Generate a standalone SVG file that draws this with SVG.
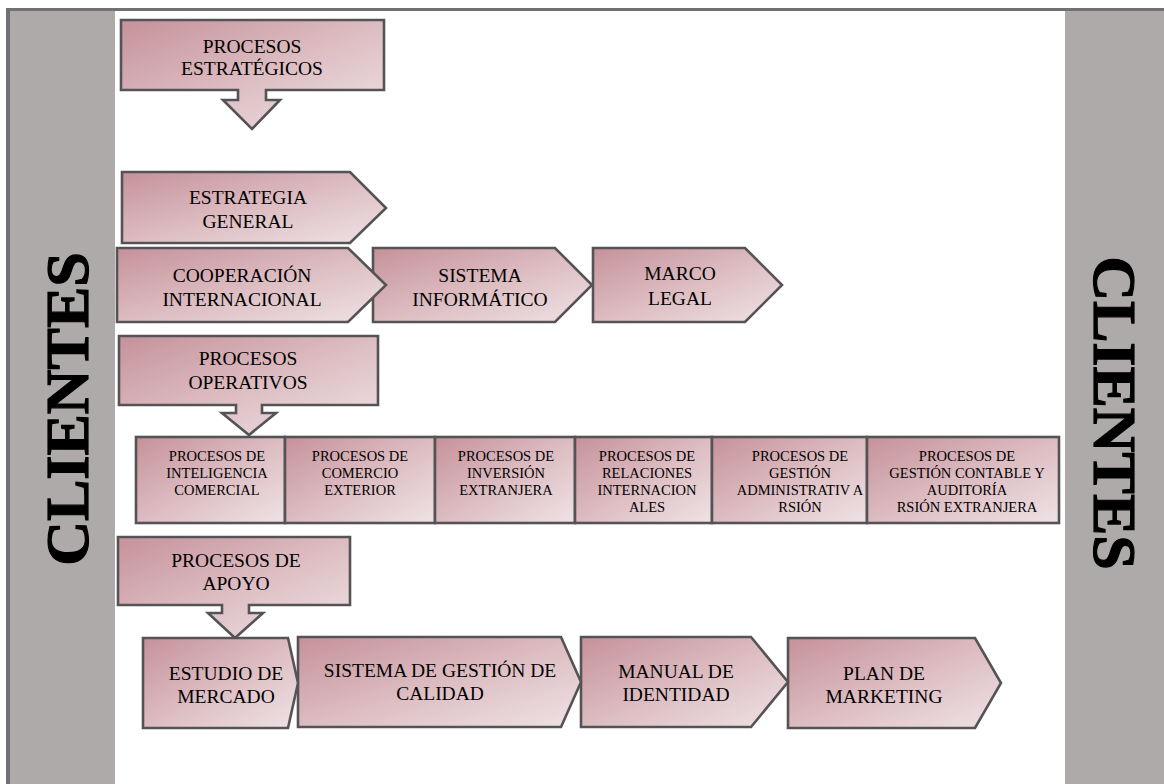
<svg xmlns="http://www.w3.org/2000/svg" width="1164" height="784" viewBox="0 0 1164 784">
  <defs>
    <linearGradient id="rose" x1="0" y1="0" x2="1" y2="1">
      <stop offset="0" stop-color="#c6919a"/>
      <stop offset="0.5" stop-color="#dcbcc1"/>
      <stop offset="1" stop-color="#efe3e5"/>
    </linearGradient>
  </defs>
  <style>
    .shape { fill: url(#rose); stroke: #555355; stroke-width: 2.6; stroke-linejoin: miter; }
    .t { font-family: "Liberation Serif", "Times New Roman", serif; font-size: 19.5px; text-anchor: middle; fill: #000000; }
    .s { font-size: 14.5px; }
    .side { fill: #aeaaa9; }
    .frame { fill: #737075; }
    .cl { font-family: "Liberation Serif", "Times New Roman", serif; font-size: 62px; font-weight: 700; text-anchor: middle; fill: #000000; stroke: #000000; stroke-width: 1.2; }
  </style>

  <!-- page background and frame -->
  <rect x="0" y="0" width="1164" height="784" fill="#ffffff"/>
  <rect class="frame" x="6" y="8" width="1158" height="3"/>
  <rect class="frame" x="6" y="8" width="4" height="776"/>

  <!-- customer bands -->
  <g id="clientes-left">
    <rect class="side" x="10" y="11" width="105" height="773"/>
    <text class="cl" font-family="Liberation Serif, serif" font-weight="bold" transform="translate(88,409) rotate(-90)">CLIENTES</text>
  </g>
  <g id="clientes-right">
    <rect class="side" x="1065" y="11" width="99" height="773"/>
    <text class="cl" font-family="Liberation Serif, serif" font-weight="bold" transform="translate(1094,413) rotate(90)">CLIENTES</text>
  </g>

  <!-- strategic processes -->
  <g id="procesos-estrategicos">
    <path class="shape" d="M121,20 H384 V90 H266 V100 H280 L252,129 L223,100 H238 V90 H121 Z"/>
    <text class="t" x="252" y="52.5">PROCESOS</text>
    <text class="t" x="252" y="75">ESTRATÉGICOS</text>
  </g>

  <g id="estrategia-general">
    <path class="shape" d="M122,172 H350 L386,208 L350,243 H122 Z"/>
    <text class="t" x="248" y="204">ESTRATEGIA</text>
    <text class="t" x="248" y="228">GENERAL</text>
  </g>

  <g id="marco-legal">
    <path class="shape" d="M593,248 H745 L782,285 L745,322 H593 Z"/>
    <text class="t" x="680" y="280">MARCO</text>
    <text class="t" x="680" y="305">LEGAL</text>
  </g>

  <g id="sistema-informatico">
    <path class="shape" d="M373,248 H555 L592,285 L555,322 H373 Z"/>
    <text class="t" x="480" y="282">SISTEMA</text>
    <text class="t" x="480" y="306">INFORMÁTICO</text>
  </g>

  <g id="cooperacion-internacional">
    <path class="shape" d="M117,248 H348 L386,285 L348,322 H117 Z"/>
    <text class="t" x="242" y="282">COOPERACIÓN</text>
    <text class="t" x="242" y="306">INTERNACIONAL</text>
  </g>

  <!-- operational processes -->
  <g id="procesos-operativos">
    <path class="shape" d="M119,336 H378 V405 H262 V413 H276 L249,435 L222,413 H236 V405 H119 Z"/>
    <text class="t" x="248" y="364.5">PROCESOS</text>
    <text class="t" x="248" y="388.5">OPERATIVOS</text>
  </g>

  <g id="inteligencia-comercial">
    <rect class="shape" x="136" y="437" width="149" height="86"/>
    <text class="t s" x="217" y="461">PROCESOS DE</text>
    <text class="t s" x="217" y="478">INTELIGENCIA</text>
    <text class="t s" x="217" y="495">COMERCIAL</text>
  </g>
  <g id="comercio-exterior">
    <rect class="shape" x="285" y="437" width="150" height="86"/>
    <text class="t s" x="360" y="461">PROCESOS DE</text>
    <text class="t s" x="360" y="478">COMERCIO</text>
    <text class="t s" x="360" y="495">EXTERIOR</text>
  </g>
  <g id="inversion-extranjera">
    <rect class="shape" x="435" y="437" width="140" height="86"/>
    <text class="t s" x="506" y="461">PROCESOS DE</text>
    <text class="t s" x="506" y="478">INVERSIÓN</text>
    <text class="t s" x="506" y="495">EXTRANJERA</text>
  </g>
  <g id="relaciones-internacionales">
    <rect class="shape" x="575" y="437" width="137" height="86"/>
    <text class="t s" x="647" y="461">PROCESOS DE</text>
    <text class="t s" x="647" y="478">RELACIONES</text>
    <text class="t s" x="647" y="495">INTERNACION</text>
    <text class="t s" x="647" y="512">ALES</text>
  </g>
  <g id="gestion-administrativa">
    <rect class="shape" x="712" y="437" width="155" height="86"/>
    <text class="t s" x="800" y="461">PROCESOS DE</text>
    <text class="t s" x="800" y="478">GESTIÓN</text>
    <text class="t s" x="800" y="495">ADMINISTRATIV A</text>
    <text class="t s" x="800" y="512">RSIÓN</text>
  </g>
  <g id="gestion-contable">
    <rect class="shape" x="867" y="437" width="192" height="86"/>
    <text class="t s" x="967" y="461">PROCESOS DE</text>
    <text class="t s" x="967" y="478">GESTIÓN CONTABLE Y</text>
    <text class="t s" x="967" y="495">AUDITORÍA</text>
    <text class="t s" x="967" y="512">RSIÓN EXTRANJERA</text>
  </g>

  <!-- support processes -->
  <g id="procesos-apoyo">
    <path class="shape" d="M118,537 H350 V605 H249 V613 H263 L235,638 L208,613 H222 V605 H118 Z"/>
    <text class="t" x="236" y="566.5">PROCESOS DE</text>
    <text class="t" x="236" y="589.5">APOYO</text>
  </g>

  <g id="plan-marketing">
    <path class="shape" d="M788,638 H975 L1001,683 L975,728 H788 Z"/>
    <text class="t" x="884" y="680">PLAN DE</text>
    <text class="t" x="884" y="703">MARKETING</text>
  </g>
  <g id="manual-identidad">
    <path class="shape" d="M581,637 H751 L788,682 L751,727 H581 Z"/>
    <text class="t" x="676" y="678">MANUAL DE</text>
    <text class="t" x="676" y="701">IDENTIDAD</text>
  </g>
  <g id="sistema-calidad">
    <path class="shape" d="M298,637 H561 L581,682 L561,727 H298 Z"/>
    <text class="t" x="440" y="677">SISTEMA DE GESTIÓN DE</text>
    <text class="t" x="440" y="700">CALIDAD</text>
  </g>
  <g id="estudio-mercado">
    <path class="shape" d="M143,638 H288 L298,683 L288,728 H143 Z"/>
    <text class="t" x="226" y="680">ESTUDIO DE</text>
    <text class="t" x="226" y="703">MERCADO</text>
  </g>
</svg>
